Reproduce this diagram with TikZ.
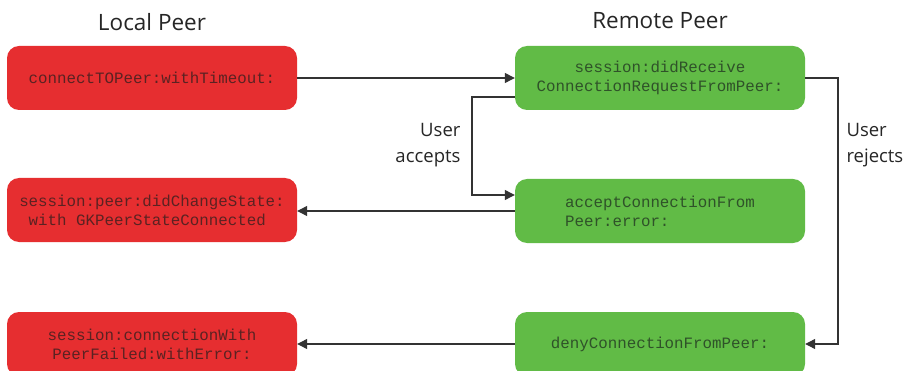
\documentclass[tikz,border=0pt]{standalone}
\usepackage{fontspec}
\setmainfont{Open Sans}
\newfontfamily\codefont{Liberation Mono}
\usetikzlibrary{arrows.meta}
\definecolor{peerred}{HTML}{E62E30}
\definecolor{peergreen}{HTML}{61BB46}
\definecolor{linegray}{HTML}{333333}
\definecolor{redtext}{HTML}{5A2222}
\definecolor{greentext}{HTML}{2F5229}
\tikzset{
  box/.style={rounded corners=12pt, minimum width=290pt, minimum height=64pt, inner sep=0pt,
    font=\codefont\fontsize{15.8}{19}\selectfont},
  localbox/.style={box, fill=peerred, text=redtext},
  remotebox/.style={box, fill=peergreen, text=greentext},
  title/.style={font=\fontsize{22.5}{27}\selectfont, text=black!85},
  lbl/.style={font=\fontsize{18.5}{26}\selectfont, text=black!85},
  conn/.style={draw=linegray, line width=1.2pt, -{Triangle[length=10pt,width=10pt]}}
}
\begin{document}
\begin{tikzpicture}[x=1pt,y=-1pt]
\useasboundingbox (0,0) rectangle (909,371);
\node[title] (tl) at (152,22) {Local Peer};
\node[title] (tr) at (660,21) {Remote Peer};
\node[localbox] (l1) at (152,78) {connectTOPeer:withTimeout:};
\node[localbox, align=left] (l2) at (152,210) {session:peer:didChangeState:\\\phantom{x}with GKPeerStateConnected};
\node[localbox, align=center] (l3) at (152,344) {session:connectionWith\\PeerFailed:withError:};
\node[remotebox, align=center] (r1) at (660,78) {session:didReceive\\ConnectionRequestFromPeer:};
\node[remotebox, align=left] (r2) at (660,211) {acceptConnectionFrom\\Peer:error:};
\node[remotebox] (r3) at (660,344) {denyConnectionFromPeer:};
\node[lbl, align=right, anchor=east] (ua) at (464,145) {User\\accepts};
\node[lbl, align=left, anchor=west] (ur) at (843,145) {User\\rejects};
\coordinate (a1) at (472,97);
\coordinate (a2) at (472,195);
\coordinate (b1) at (838,78);
\coordinate (b2) at (838,344);
\draw[conn] (l1.east) -- (r1.west);
\draw[conn] (r1.west |- a1) -- (a1) -- (a2) -- (r2.west |- a2);
\draw[conn] (r1.east) -- (b1) -- (b2) -- (r3.east);
\draw[conn] (r2.west) -- (l2.east |- r2.west);
\draw[conn] (r3.west) -- (l3.east);
\end{tikzpicture}
\end{document}
